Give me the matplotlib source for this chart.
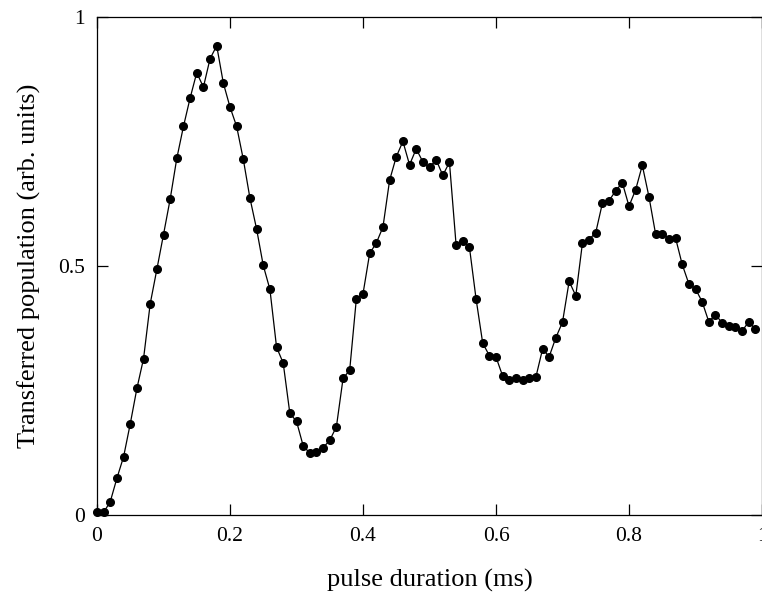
import matplotlib
matplotlib.use('Agg')
import matplotlib.pyplot as plt
import numpy as np

# pulse durations (ms), one point every 0.01 ms
duration = np.round(np.arange(0, 100) * 0.01, 2)
population = [
    0.005, 0.005, 0.027, 0.074, 0.117, 0.183, 0.254, 0.314, 0.424, 0.493,
    0.563, 0.634, 0.716, 0.780, 0.837, 0.888, 0.859, 0.916, 0.942, 0.867,
    0.819, 0.780, 0.714, 0.636, 0.574, 0.501, 0.453, 0.337, 0.305, 0.204,
    0.188, 0.139, 0.124, 0.127, 0.135, 0.150, 0.177, 0.274, 0.291, 0.434,
    0.444, 0.525, 0.546, 0.578, 0.672, 0.719, 0.750, 0.703, 0.735, 0.709,
    0.698, 0.713, 0.682, 0.708, 0.542, 0.550, 0.538, 0.434, 0.345, 0.320,
    0.317, 0.279, 0.270, 0.275, 0.270, 0.274, 0.277, 0.333, 0.318, 0.356,
    0.387, 0.469, 0.440, 0.546, 0.553, 0.567, 0.626, 0.631, 0.651, 0.667,
    0.620, 0.653, 0.702, 0.639, 0.564, 0.565, 0.555, 0.556, 0.503, 0.464,
    0.454, 0.428, 0.388, 0.402, 0.386, 0.380, 0.377, 0.369, 0.388, 0.373,
]
xticks = [0, 0.2, 0.4, 0.6, 0.8, 1]
xtick_labels = ['0', '0.2', '0.4', '0.6', '0.8', '1']
yticks = [0, 0.5, 1]
ytick_labels = ['0', '0.5', '1']

plt.rcParams['font.family'] = ['Liberation Serif', 'DejaVu Serif']

fig = plt.figure(figsize=(7.62, 6.03), dpi=100)
ax = fig.add_axes([0.1273, 0.146, 0.8727, 0.826])

ax.plot(duration, population, '-o', color='black', lw=0.9,
        markersize=5.5, clip_on=False, zorder=3)

ax.set_xlim(0, 1)
ax.set_ylim(0, 1)
ax.set_xticks(xticks)
ax.set_xticklabels(xtick_labels)
ax.set_yticks(yticks)
ax.set_yticklabels(ytick_labels)
ax.tick_params(direction='in', length=8, width=0.9, top=True, right=True,
               labelsize=15.5, pad=9)
for s in ax.spines.values():
    s.set_linewidth(0.9)

ax.set_xlabel('pulse duration (ms)', fontsize=19, labelpad=16)
ax.set_ylabel('Transferred population (arb. units)', fontsize=19, labelpad=12)

fig.savefig('out.png', dpi=100)
